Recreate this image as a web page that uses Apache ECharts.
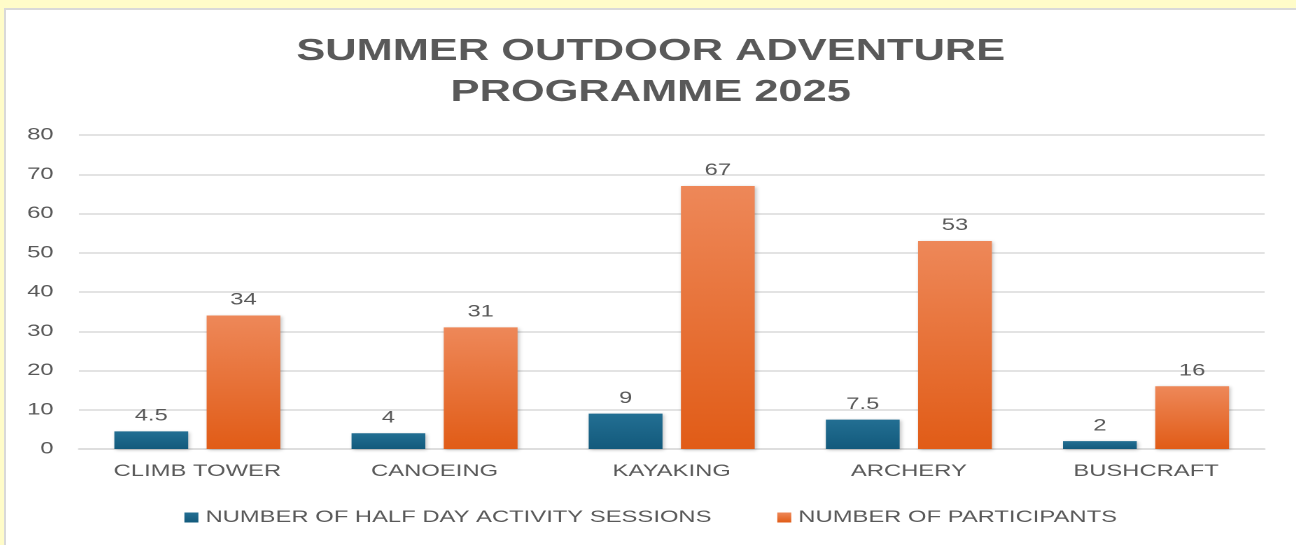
<!DOCTYPE html>
<html>
<head>
<meta charset="utf-8">
<script src="https://cdn.jsdelivr.net/npm/echarts@6/dist/echarts.min.js"></script>
<style>
  html, body { margin: 0; padding: 0; background: #fffcc9; overflow: hidden; }
  #panel {
    position: absolute; left: 4px; top: 8px;
    width: 1292px; height: 537px;
    background: #fff;
    border-left: 2px solid #d9d9d9; border-top: 2px solid #d9d9d9;
    box-sizing: border-box;
    overflow: hidden;
  }
  /* the source picture is stretched sideways, so draw narrow and widen it */
  #chart {
    position: absolute; left: 0; top: 0;
    width: 921px; height: 535px;
    transform: scaleX(1.4);
    transform-origin: 0 0;
  }
</style>
</head>
<body>
<div id="panel"><div id="chart"></div></div>
<script>
const categories = ['CLIMB TOWER', 'CANOEING', 'KAYAKING', 'ARCHERY', 'BUSHCRAFT']
const sessions = [4.5, 4, 9, 7.5, 2]
const participants = [34, 31, 67, 53, 16]
const seriesNames = ['NUMBER OF HALF DAY ACTIVITY SESSIONS', 'NUMBER OF PARTICIPANTS']

const textColor = '#595959'
const font = 'Liberation Sans'

const chart = echarts.init(document.getElementById('chart'), null, { devicePixelRatio: 2 })

function grad(top, bottom) {
  return new echarts.graphic.LinearGradient(0, 0, 0, 1, [
    { offset: 0, color: top },
    { offset: 1, color: bottom }
  ])
}

const barLabel = {
  show: true,
  position: 'top',
  distance: 7,
  color: textColor,
  fontFamily: font,
  fontSize: 17
}

chart.setOption({
  animation: false,
  title: {
    text: 'SUMMER OUTDOOR ADVENTURE\nPROGRAMME 2025',
    left: 'center',
    top: 16,
    textStyle: {
      color: textColor,
      fontFamily: font,
      fontWeight: 'bold',
      fontSize: 31,
      lineHeight: 41
    }
  },
  legend: {
    bottom: 14,
    left: 'center',
    itemWidth: 10,
    itemHeight: 10,
    itemGap: 47,
    icon: 'rect',
    textStyle: { color: textColor, fontFamily: font, fontSize: 17 },
    data: seriesNames
  },
  grid: { left: 52, right: 22, top: 125, bottom: 96, containLabel: false },
  xAxis: {
    type: 'category',
    data: categories,
    axisLine: { lineStyle: { color: '#d9d9d9', width: 1.5 } },
    axisTick: { show: false },
    axisLabel: { color: textColor, fontFamily: font, fontSize: 17, margin: 14 }
  },
  yAxis: {
    type: 'value',
    min: 0,
    max: 80,
    interval: 10,
    axisLine: { show: false },
    axisTick: { show: false },
    splitLine: { lineStyle: { color: '#d9d9d9', width: 1.5 } },
    axisLabel: { color: textColor, fontFamily: font, fontSize: 17, margin: 18 }
  },
  series: [
    {
      name: seriesNames[0],
      type: 'bar',
      data: sessions,
      barGap: '25%',
      barCategoryGap: '30%',
      itemStyle: {
        color: grad('#236f93', '#135a7c'),
        shadowColor: 'rgba(0,0,0,0.25)',
        shadowBlur: 3,
        shadowOffsetX: 1,
        shadowOffsetY: 1
      },
      label: barLabel
    },
    {
      name: seriesNames[1],
      type: 'bar',
      data: participants,
      itemStyle: {
        color: grad('#ee8859', '#e15c17'),
        shadowColor: 'rgba(0,0,0,0.25)',
        shadowBlur: 3,
        shadowOffsetX: 1,
        shadowOffsetY: 1
      },
      label: barLabel
    }
  ]
})
</script>
</body>
</html>
